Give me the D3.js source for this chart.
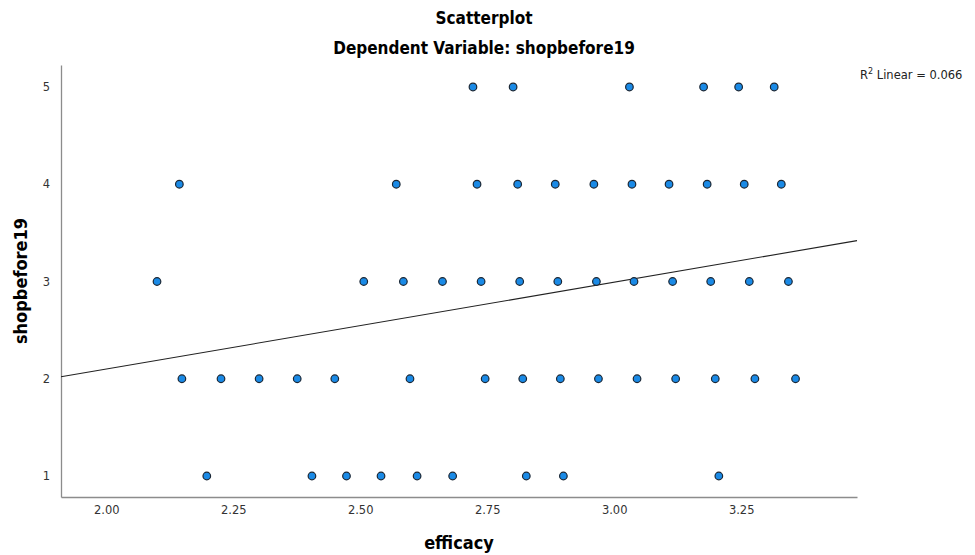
<!DOCTYPE html>
<html>
<head>
<meta charset="utf-8">
<script src="https://cdn.jsdelivr.net/npm/d3@7"></script>
<style>
  body { margin: 0; background: #fff; }
  text { font-family: "DejaVu Sans", sans-serif; }
  .title { font-family: "DejaVu Sans Condensed", "DejaVu Sans", sans-serif; font-stretch: condensed; }
</style>
</head>
<body>
<script>
// efficacy values, grouped by shopbefore19 level
var level5 = [2.722, 2.801, 3.030, 3.176, 3.245, 3.315];
var level4 = [2.144, 2.571, 2.730, 2.810, 2.884, 2.960, 3.035, 3.108, 3.183, 3.256, 3.329];
var level3 = [2.100, 2.507, 2.585, 2.662, 2.738, 2.814, 2.889, 2.965, 3.039, 3.115, 3.190, 3.266, 3.343];
var level2 = [2.149, 2.226, 2.301, 2.376, 2.450, 2.598, 2.746, 2.820, 2.894, 2.969, 3.045, 3.121, 3.199, 3.277, 3.357];
var level1 = [2.198, 2.405, 2.473, 2.541, 2.612, 2.682, 2.827, 2.900, 3.206];

var xTicks = [2.00, 2.25, 2.50, 2.75, 3.00, 3.25];
var yTicks = [1, 2, 3, 4, 5];

// fit line endpoints (efficacy, predicted shopbefore19)
var fitX = [1.911, 3.478];
var fitY = [2.02, 3.42];
var r2 = "0.066";

var width = 975, height = 555;
var margin = {top: 65, right: 118, bottom: 58, left: 61};

var svg = d3.select("body").append("svg")
    .attr("width", width)
    .attr("height", height);

var x = d3.scaleLinear().domain([1.911, 3.478]).range([margin.left, width - margin.right]);
var y = d3.scaleLinear().domain([0.784, 5.226]).range([height - margin.bottom, margin.top]);

var points = [];
[[1, level1], [2, level2], [3, level3], [4, level4], [5, level5]].forEach(function(g) {
  g[1].forEach(function(v) { points.push({x: v, y: g[0]}); });
});

var xAxis = d3.axisBottom(x).tickValues(xTicks).tickFormat(d3.format(".2f")).tickSize(0).tickPadding(9);
var yAxis = d3.axisLeft(y).tickValues(yTicks).tickFormat(d3.format("d")).tickSize(0).tickPadding(11);

svg.append("g")
    .attr("transform", "translate(0," + (height - margin.bottom) + ")")
    .call(xAxis)
    .call(function(g) {
      g.select(".domain").attr("stroke", "#8c8c8c").attr("stroke-width", 1.3);
      g.selectAll("text").attr("font-size", 11.5).attr("fill", "#333")
        .style("font-family", "'DejaVu Sans', sans-serif");
    });

svg.append("g")
    .attr("transform", "translate(" + margin.left + ",0)")
    .call(yAxis)
    .call(function(g) {
      g.select(".domain").attr("stroke", "#8c8c8c").attr("stroke-width", 1.3);
      g.selectAll("text").attr("font-size", 11.5).attr("fill", "#333")
        .style("font-family", "'DejaVu Sans', sans-serif");
    });

// regression line
svg.append("line")
    .attr("x1", x(fitX[0])).attr("y1", y(fitY[0]))
    .attr("x2", x(fitX[1])).attr("y2", y(fitY[1]))
    .attr("stroke", "#222")
    .attr("stroke-width", 1.1);

svg.selectAll("circle.pt")
    .data(points)
  .enter().append("circle")
    .attr("class", "pt")
    .attr("cx", function(d) { return x(d.x); })
    .attr("cy", function(d) { return y(d.y); })
    .attr("r", 3.8)
    .attr("fill", "#1a8ae6")
    .attr("stroke", "#1b2633")
    .attr("stroke-width", 1.2);

// titles
svg.append("text")
    .attr("class", "title")
    .attr("x", 484).attr("y", 24)
    .attr("text-anchor", "middle")
    .attr("font-size", 17).attr("font-weight", "bold")
    .text("Scatterplot");

svg.append("text")
    .attr("class", "title")
    .attr("x", 484).attr("y", 54)
    .attr("text-anchor", "middle")
    .attr("font-size", 17).attr("font-weight", "bold")
    .text("Dependent Variable: shopbefore19");

svg.append("text")
    .attr("class", "title")
    .attr("x", 459).attr("y", 549)
    .attr("text-anchor", "middle")
    .attr("font-size", 18).attr("font-weight", "bold")
    .text("efficacy");

svg.append("text")
    .attr("class", "title")
    .attr("transform", "translate(27,281) rotate(-90)")
    .attr("text-anchor", "middle")
    .attr("font-size", 18).attr("font-weight", "bold")
    .text("shopbefore19");

var r2Text = svg.append("text")
    .attr("x", 860).attr("y", 79)
    .attr("font-size", 11.5).attr("fill", "#222");
r2Text.append("tspan").text("R");
r2Text.append("tspan").attr("dy", -5).attr("font-size", 8).text("2");
r2Text.append("tspan").attr("dy", 5).text(" Linear = " + r2);
</script>
</body>
</html>
